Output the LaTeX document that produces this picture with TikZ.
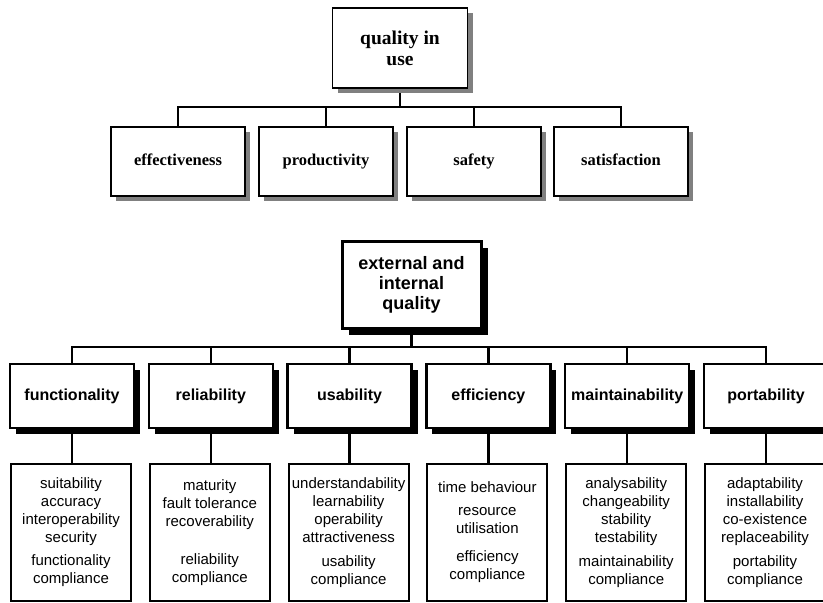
\documentclass[tikz,border=0pt]{standalone}
\usepackage{fontspec}
\setmainfont{Liberation Sans}
\newfontfamily\qfont{Liberation Serif}
\usetikzlibrary{shadows,backgrounds}

\tikzset{
	grayshadow/.style={drop shadow={shadow xshift=5pt,shadow yshift=-5pt,fill=black!50,opacity=1}},
	blackshadow/.style={drop shadow={shadow xshift=#1,shadow yshift=-#1,fill=black,opacity=1}},
	userbox/.style={draw,fill=white,line width=1.8pt,grayshadow,inner sep=0pt,align=center},
	headbox/.style={draw,fill=white,line width=2.4pt,blackshadow=6pt,inner sep=0pt,align=center,
		minimum width=124pt,minimum height=64pt,text height=12pt,text depth=3.5pt,
		font=\bfseries\fontsize{16}{19}\selectfont},
	listbox/.style={draw,fill=white,line width=2pt,inner sep=0pt,align=center,
		minimum width=120pt,minimum height=137pt,font=\fontsize{15}{18}\selectfont},
}

\begin{document}
\begin{tikzpicture}[x=1pt,y=-1pt]
	\useasboundingbox (0,0) rectangle (823,603);
	% quality in use
	\begin{scope}[every node/.style={userbox,minimum width=134pt,minimum height=69pt,text height=11pt,text depth=3.5pt,
			font=\qfont\bfseries\fontsize{16.5}{19}\selectfont}]
		\node[minimum width=135pt,minimum height=80pt,text height=,text depth=,
			font=\qfont\bfseries\fontsize{19.5}{21}\selectfont] (Q) at (400,48) {quality in\\use};
		\node (Q1) at (178,161.5) {effectiveness};
		\node (Q2) at (326,161.5) {productivity};
		\node (Q3) at (474,161.5) {safety};
		\node (Q4) at (621,161.5) {satisfaction};
		\coordinate (qbus) at (400,107);
	\end{scope}
	\begin{pgfonlayer}{background}
		\begin{scope}[line width=2pt]
			\draw[-] (Q.south) to (qbus);
			\draw[-] (Q1.north) |- (qbus);
			\draw[-] (Q2.north) |- (qbus);
			\draw[-] (Q3.north) |- (qbus);
			\draw[-] (Q4.north) |- (qbus);
		\end{scope}
	\end{pgfonlayer}

	% external and internal quality
	\node[draw,fill=white,line width=3pt,blackshadow=7pt,inner sep=0pt,align=center,
		minimum width=139pt,minimum height=87pt,font=\bfseries\fontsize{18}{20}\selectfont] (EI) at (411.5,284.5) {external and\\internal\\quality};
	\coordinate (ebus) at (411.5,347);

	\node[headbox] (F) at (72,396) {functionality};
	\node[headbox] (R) at (210.8,396) {reliability};
	\node[headbox] (U) at (349.6,396) {usability};
	\node[headbox] (E) at (488.4,396) {efficiency};
	\node[headbox] (M) at (627.2,396) {maintainability};
	\node[headbox] (P) at (766,396) {portability};

	\node[listbox] (F1) at (71,532.5) {suitability\\accuracy\\interoperability\\security\\[5pt]functionality\\compliance};
	\node[listbox] (R1) at (209.8,532.5) {maturity\\fault tolerance\\recoverability\\[20pt]reliability\\compliance};
	\node[listbox] (U1) at (348.6,532.5) {understandability\\learnability\\operability\\attractiveness\\[6pt]usability\\compliance};
	\node[listbox] (E1) at (487.4,532.5) {time behaviour\\[5pt]resource\\utilisation\\[10pt]efficiency\\compliance};
	\node[listbox] (M1) at (626.2,532.5) {analysability\\changeability\\stability\\testability\\[6pt]maintainability\\compliance};
	\node[listbox] (P1) at (765,532.5) {adaptability\\installability\\co-existence\\replaceability\\[6pt]portability\\compliance};

	\begin{pgfonlayer}{background}
		\begin{scope}[line width=2.4pt]
			\draw[-] (EI.south) to (ebus);
			\draw[-] (F.north) |- (ebus);
			\draw[-] (R.north) |- (ebus);
			\draw[-] (U.north) |- (ebus);
			\draw[-] (E.north) |- (ebus);
			\draw[-] (M.north) |- (ebus);
			\draw[-] (P.north) |- (ebus);
			\draw[-] (F.south) to (F.south |- F1.north);
			\draw[-] (R.south) to (R.south |- R1.north);
			\draw[-] (U.south) to (U.south |- U1.north);
			\draw[-] (E.south) to (E.south |- E1.north);
			\draw[-] (M.south) to (M.south |- M1.north);
			\draw[-] (P.south) to (P.south |- P1.north);
		\end{scope}
	\end{pgfonlayer}
\end{tikzpicture}
\end{document}
